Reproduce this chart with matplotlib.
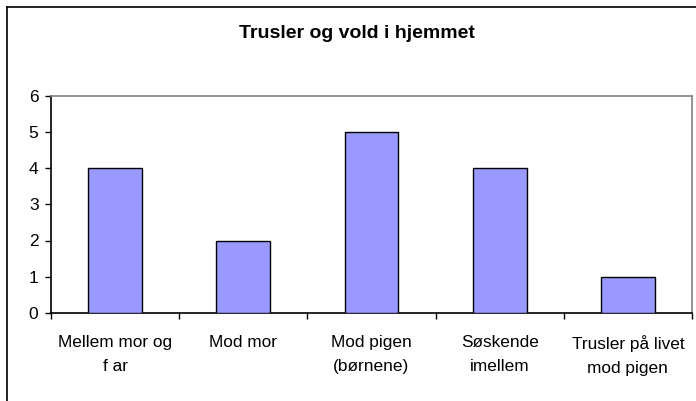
import matplotlib.pyplot as plt
from matplotlib.lines import Line2D

plt.rcParams['font.family'] = ['Liberation Sans', 'DejaVu Sans']

# Data
categories = ["Mellem mor og\nf ar", "Mod mor", "Mod pigen\n(børnene)",
              "Søskende\nimellem", "Trusler på livet\nmod pigen"]
values = [4, 2, 5, 4, 1]
yticks = [0, 1, 2, 3, 4, 5, 6]

fig = plt.figure(figsize=(6.96, 4.01), dpi=100)
ax = fig.add_axes([51 / 696, 1 - 313 / 401, (692 - 51) / 696, (313 - 95.5) / 401])

x = list(range(len(categories)))
ax.bar(x, values, width=0.42, color='#9999FF', edgecolor='black', linewidth=1.0, zorder=3)

ax.set_xlim(-0.5, len(categories) - 0.5)
ax.set_ylim(0, 6)
ax.set_yticks(yticks)
ax.set_yticklabels([str(v) for v in yticks], fontsize=12.5)

ax.set_xticks(x)
ax.set_xticklabels(categories, fontsize=12.4, linespacing=1.75)
ax.tick_params(axis='x', which='major', length=0, pad=16)
ax.set_xticks([i - 0.5 for i in range(len(categories) + 1)], minor=True)
ax.tick_params(axis='x', which='minor', length=4, width=1, color='black')
ax.tick_params(axis='y', length=4, width=1, color='black', pad=5)

ax.spines['left'].set_color('black')
ax.spines['bottom'].set_color('black')
ax.spines['top'].set_color('#808080')
ax.spines['right'].set_color('#808080')
for s in ax.spines.values():
    s.set_linewidth(1.2)

fig.text(357 / 696, 1 - 34 / 401, "Trusler og vold i hjemmet", ha='center', va='center',
         fontsize=14, fontweight='bold')

# outer chart border (only left and top visible)
fig.add_artist(Line2D([7 / 696, 7 / 696], [0, 1 - 7 / 401], color='black', lw=1.2, transform=fig.transFigure))
fig.add_artist(Line2D([7 / 696, 1], [1 - 7 / 401, 1 - 7 / 401], color='black', lw=1.2, transform=fig.transFigure))

fig.savefig("out.png", dpi=100)
